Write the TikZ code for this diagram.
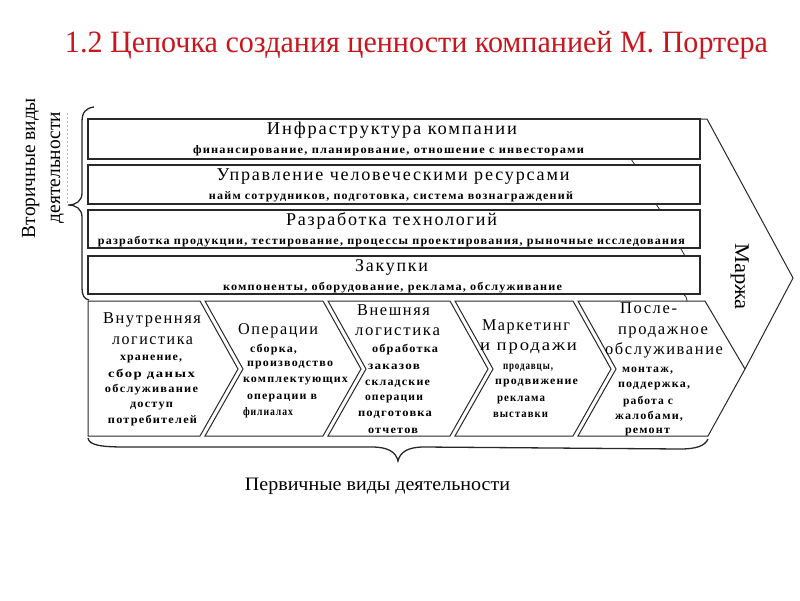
\documentclass[tikz,border=0pt]{standalone}
\usepackage{fontspec}
\usepackage{graphicx}
\setmainfont{Liberation Serif}
\newfontfamily\spaced[LetterSpace=10]{Liberation Serif}
\newcommand\fhead{\spaced\fontsize{16.5}{18}\selectfont}
\newcommand\frow{\spaced\fontsize{18}{20}\selectfont}
\newcommand\fsmall{\spaced\bfseries\fontsize{11.5}{13}\selectfont}
\definecolor{titlered}{RGB}{200,22,30}
\definecolor{linegray}{RGB}{40,40,40}
\newcommand\tline[5]{\node[font=#4,anchor=mid,inner sep=0pt] (#1) at (#2) {\resizebox{#3pt}{\height}{#5}};}
\begin{document}
\begin{tikzpicture}[x=1pt,y=-1pt,
  rowbox/.style={draw=linegray,line width=1.4pt},
  chev/.style={draw=linegray,line width=1pt},
  brace/.style={draw=linegray,line width=1.3pt},
  tick/.style={draw=linegray,line width=0.8pt}]
\useasboundingbox (0,0) rectangle (800,600);

% title
\node[anchor=base,inner sep=0pt,text=titlered,font=\fontsize{31}{33}\selectfont] (title) at (416.5,52)
  {\resizebox{703pt}{\height}{1.2 Цепочка создания ценности компанией М. Портера}};

% vertical labels
\node[rotate=90,anchor=base,inner sep=0pt,font=\fontsize{20}{22}\selectfont] (sec1) at (35,168)
  {\resizebox{140pt}{\height}{Вторичные виды}};
\node[rotate=90,anchor=base,inner sep=0pt,font=\fontsize{20}{22}\selectfont] (sec2) at (60,167.5)
  {\resizebox{111pt}{\height}{деятельности}};
\draw[gray!60,dash pattern=on 2pt off 2pt,line width=0.6pt] (67,113) -- (67,203);

% left brace
\draw[brace] (94,107) .. controls (86,108) and (82,112) .. (82,122) -- (82,193)
  .. controls (82,201) and (76,205) .. (68,205)
  .. controls (76,205) and (82,209) .. (82,217) -- (82,288)
  .. controls (82,295) and (84,299) .. (89,300);

% support rows
\draw[rowbox] (88,119) rectangle (700,159);
\draw[rowbox] (88,165) rectangle (700,204);
\draw[rowbox] (88,210) rectangle (700,248);
\draw[rowbox] (88,256) rectangle (700,294);
\draw[tick] (631,159) -- (635,165);
\draw[tick] (656,204) -- (660,210);
\draw[tick] (681,249) -- (685,256);
\draw[tick] (683,294) .. controls (686,296) .. (687,301);

\tline{r1t}{392,132.5}{250}{\frow}{Инфраструктура компании}
\tline{r1s}{388.5,151.5}{391}{\fsmall}{финансирование, планирование, отношение с инвесторами}
\tline{r2t}{393,178.5}{353}{\frow}{Управление человеческими ресурсами}
\tline{r2s}{391,197.5}{364}{\fsmall}{найм сотрудников, подготовка, система вознаграждений}
\tline{r3t}{391.5,223.5}{211}{\frow}{Разработка технологий}
\tline{r3s}{391.5,242.5}{587}{\fsmall}{разработка продукции, тестирование, процессы проектирования, рыночные исследования}
\tline{r4t}{391.5,269.5}{73}{\frow}{Закупки}
\tline{r4s}{392.5,288.5}{339}{\fsmall}{компоненты, оборудование, реклама, обслуживание}

% margin arrow
\draw[chev] (700,119) -- (707,119) -- (793,278) -- (745,369);
\node[rotate=-90,anchor=base,inner sep=0pt,font=\fontsize{21}{23}\selectfont] (marzha) at (735,276.5)
  {\resizebox{67pt}{\height}{Маржа}};

% primary chevrons
\draw[chev] (88,301) -- (200,301) -- (238,369) -- (200,436) -- (88,436) -- cycle;
\draw[chev] (205,301) -- (323,301) -- (361,369) -- (323,436) -- (205,436) -- (243,369) -- cycle;
\draw[chev] (328,301) -- (450,301) -- (488,369) -- (450,436) -- (328,436) -- (366,369) -- cycle;
\draw[chev] (455,301) -- (573,301) -- (611,369) -- (573,436) -- (455,436) -- (493,369) -- cycle;
\draw[chev] (578,301) -- (705,301) -- (745,369) -- (708,436) -- (578,436) -- (616,369) -- cycle;

% chevron 1
\tline{c1a}{152,321}{98}{\fhead}{Внутренняя}
\tline{c1b}{152.5,342}{81}{\fhead}{логистика}
\tline{c1c}{151,358}{62}{\fsmall}{хранение,}
\tline{c1d}{151.5,375}{87}{\fsmall}{сбор даных}
\tline{c1e}{151.5,390}{93}{\fsmall}{обслуживание}
\tline{c1f}{151.5,405}{43}{\fsmall}{доступ}
\tline{c1g}{152.5,421}{89}{\fsmall}{потребителей}
% chevron 2
\tline{c2a}{278,332}{80}{\fhead}{Операции}
\tline{c2b}{273.5,350}{47}{\fsmall}{сборка,}
\tline{c2c}{290,364}{86}{\fsmall}{производство}
\tline{c2d}{295.5,380}{105}{\fsmall}{комплектующих}
\tline{c2e}{282,397}{70}{\fsmall}{операции в}
\tline{c2f}{268,413}{50}{\fsmall}{филиалах}
% chevron 3
\tline{c3a}{393.5,313}{73}{\fhead}{Внешняя}
\tline{c3b}{397.5,333}{85}{\fhead}{логистика}
\tline{c3c}{405,350}{66}{\fsmall}{обработка}
\tline{c3d}{394,367}{52}{\fsmall}{заказов}
\tline{c3e}{397.5,383}{65}{\fsmall}{складские}
\tline{c3f}{394,398}{58}{\fsmall}{операции}
\tline{c3g}{395,414}{74}{\fsmall}{подготовка}
\tline{c3h}{393,431}{50}{\fsmall}{отчетов}
% chevron 4
\tline{c4a}{526,328}{88}{\fhead}{Маркетинг}
\tline{c4b}{528.5,348}{97}{\fhead}{и продажи}
\tline{c4c}{528,367}{50}{\fsmall}{продавцы,}
\tline{c4d}{536.5,382}{83}{\fsmall}{продвижение}
\tline{c4e}{521,399}{48}{\fsmall}{реклама}
\tline{c4f}{520.5,415}{55}{\fsmall}{выставки}
% chevron 5
\tline{c5a}{648.5,311}{57}{\fhead}{После-}
\tline{c5b}{663,332}{90}{\fhead}{продажное}
\tline{c5c}{664,352}{118}{\fhead}{обслуживание}
\tline{c5d}{647.5,370}{51}{\fsmall}{монтаж,}
\tline{c5e}{654,385}{72}{\fsmall}{поддержка,}
\tline{c5f}{648,402}{50}{\fsmall}{работа с}
\tline{c5g}{649,417}{68}{\fsmall}{жалобами,}
\tline{c5h}{647.5,431}{45}{\fsmall}{ремонт}

% bottom brace
\draw[brace] (88,438) .. controls (89,445) and (100,447) .. (125,447) -- (372,447)
  .. controls (388,447) and (396,452) .. (398,461)
  .. controls (400,452) and (408,447) .. (424,447) -- (680,449)
  .. controls (696,449) and (705,446) .. (708,439);

\node[anchor=base,inner sep=0pt,font=\fontsize{19}{21}\selectfont] (prim) at (377.5,490)
  {\resizebox{265pt}{\height}{Первичные виды деятельности}};
\end{tikzpicture}
\end{document}
